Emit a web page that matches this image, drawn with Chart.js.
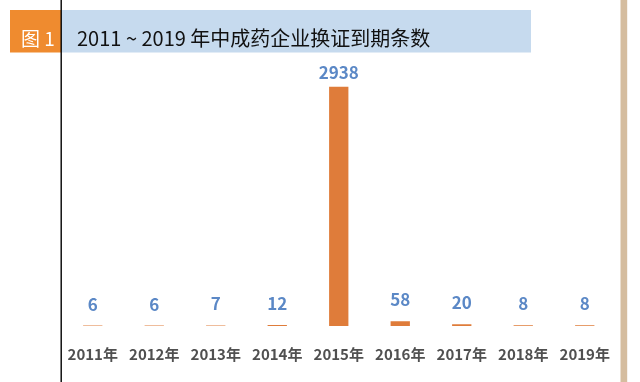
<!DOCTYPE html>
<html>
<head>
<meta charset="utf-8">
<script src="https://cdn.jsdelivr.net/npm/chart.js@4"></script>
<style>
  html, body { margin: 0; padding: 0; background: #fff; }
  #wrap { width: 640px; height: 382px; position: relative; }
</style>
</head>
<body>
<div id="wrap"><canvas id="c" width="640" height="382"></canvas></div>
<script>
const categories = ['2011年','2012年','2013年','2014年','2015年','2016年','2017年','2018年','2019年'];
const values = [6, 6, 7, 12, 2938, 58, 20, 8, 8];
const figureTag = '图 1';
const titleText = '2011 ~ 2019 年中成药企业换证到期条数';

const CJK = '"Noto Sans CJK SC", "Noto Sans", sans-serif';

const decor = {
  id: 'decor',
  beforeDraw(chart) {
    const ctx = chart.ctx;
    ctx.save();
    ctx.fillStyle = '#ffffff';
    ctx.fillRect(0, 0, chart.width, chart.height);
    ctx.fillStyle = '#ef8b2f';
    ctx.fillRect(10, 10, 51, 42.5);
    ctx.fillStyle = '#c6daee';
    ctx.fillRect(61, 10, 470, 42.5);
    ctx.textBaseline = 'alphabetic';
    ctx.textAlign = 'left';
    ctx.font = '19px ' + CJK;
    ctx.fillStyle = '#ffffff';
    ctx.fillText(figureTag, 21, 46);
    ctx.font = '20px ' + CJK;
    ctx.fillStyle = '#111111';
    ctx.fillText(titleText, 77, 46);
    ctx.fillStyle = '#000000';
    ctx.fillRect(60.5, 0, 1.4, chart.height);
    ctx.fillStyle = '#d5bd9f';
    ctx.fillRect(620.5, 0, 6.7, chart.height);
    ctx.restore();
  }
};

const valueLabels = {
  id: 'valueLabels',
  afterDatasetsDraw(chart) {
    const ctx = chart.ctx;
    const meta = chart.getDatasetMeta(0);
    const top = chart.chartArea.top;
    ctx.save();
    ctx.font = 'bold 17px ' + CJK;
    ctx.fillStyle = '#5b88c6';
    ctx.textAlign = 'center';
    ctx.textBaseline = 'alphabetic';
    meta.data.forEach((bar, i) => {
      const y = Math.max(bar.y - 15, top + 13.5);
      ctx.fillText(String(chart.data.datasets[0].data[i]), bar.x, y);
    });
    ctx.restore();
  }
};

new Chart(document.getElementById('c'), {
  type: 'bar',
  data: {
    labels: categories,
    datasets: [{
      data: values,
      backgroundColor: '#df7c3a',
      borderWidth: 0,
      categoryPercentage: 1,
      barPercentage: 0.314
    }]
  },
  options: {
    responsive: false,
    animation: false,
    layout: { padding: { left: 62, right: 24.5, top: 65.5, bottom: 0 } },
    plugins: { legend: { display: false }, tooltip: { enabled: false }, title: { display: false } },
    scales: {
      x: {
        grid: { display: false, drawTicks: false },
        border: { display: false },
        ticks: {
          color: '#505050',
          font: { family: CJK, size: 15, weight: 'bold' },
          padding: 19,
          maxRotation: 0,
          autoSkip: false
        }
      },
      y: {
        display: false,
        min: 0,
        max: 3200
      }
    }
  },
  plugins: [decor, valueLabels]
});
</script>
</body>
</html>
